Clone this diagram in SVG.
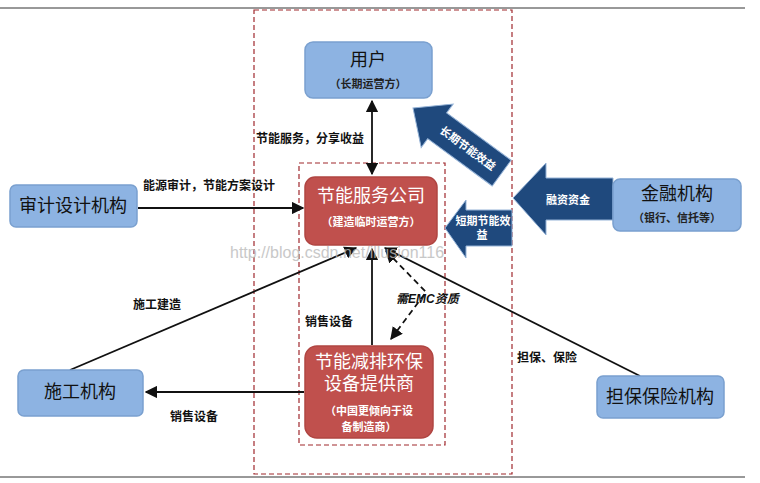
<svg xmlns="http://www.w3.org/2000/svg" width="760" height="483" viewBox="0 0 760 483">
<style>
text{font-family:"Liberation Sans","Noto Sans CJK SC",sans-serif}
.blue{fill:#8db3e2;stroke:#7aa0cf;stroke-width:1.5}
.red{fill:#c0504d;stroke:#b04542;stroke-width:1.5}
.bt{font-size:18px;fill:#111}
.rt{font-size:18px;fill:#fff}
.st{font-size:11px;font-weight:bold;fill:#222}
.lb{font-size:12px;font-weight:bold;fill:#111}
.ln{stroke:#111;stroke-width:1.8;fill:none}
.fat{fill:#1f497d;stroke:#95b3d7;stroke-width:1}
.ft{font-size:11px;font-weight:bold;fill:#fff}
</style>
<defs>
<marker id="ah" viewBox="0 0 10 10" refX="9" refY="5" markerWidth="7" markerHeight="7" orient="auto-start-reverse"><path d="M0,0 L10,5 L0,10 z" fill="#111"/></marker>
</defs>
<line x1="0" y1="8" x2="745" y2="8" stroke="#333" stroke-width="1"/>
<line x1="0" y1="477" x2="745" y2="477" stroke="#333" stroke-width="1"/>
<rect x="254" y="10" width="258" height="464" fill="none" stroke="#a0282d" stroke-width="1.2" stroke-dasharray="5,3"/>
<rect x="299" y="163" width="146" height="282" fill="none" stroke="#a0282d" stroke-width="1.2" stroke-dasharray="5,3"/>
<g id="connectors">
<line class="ln" x1="372" y1="101" x2="372" y2="174" marker-start="url(#ah)" marker-end="url(#ah)"/>
<line class="ln" x1="138" y1="208" x2="303" y2="208" marker-end="url(#ah)"/>
<line class="ln" x1="70" y1="370" x2="356" y2="248" marker-end="url(#ah)"/>
<line class="ln" x1="372" y1="345" x2="372" y2="249" marker-end="url(#ah)"/>
<line class="ln" x1="640" y1="376" x2="385" y2="248" marker-end="url(#ah)"/>
<line class="ln" x1="304" y1="392" x2="146" y2="392" marker-end="url(#ah)"/>
<polyline class="ln" points="386,251 426,292 391,339" stroke-dasharray="6,4" marker-start="url(#ah)" marker-end="url(#ah)"/>
<text class="lb" x="256" y="143">节能服务，分享收益</text>
<text class="lb" x="143" y="190">能源审计，节能方案设计</text>
<text class="lb" x="133" y="309">施工建造</text>
<text class="lb" x="305" y="326">销售设备</text>
<text class="lb" x="396" y="303" font-style="italic" font-size="14">需EMC资质</text>
<text class="lb" x="517" y="362">担保、保险</text>
<text class="lb" x="170" y="421">销售设备</text>
</g>
<g id="fat-long">
<g transform="translate(413,108) rotate(36.3)">
<polygon class="fat" points="0,0 30,-27 30,-16 110,-16 110,16 30,16 30,27"/>
<text class="ft" x="68" y="4" text-anchor="middle" font-size="12">长期节能效益</text>
</g>
</g>
<g id="fat-finance">
<polygon class="fat" points="513,198 546,163 546,178 613,178 613,220 546,220 546,235"/>
<text class="ft" x="568" y="204" font-size="15" text-anchor="middle">融资资金</text>
</g>
<g id="fat-short">
<polygon class="fat" points="445,228 466,200 466,210 512,210 512,246 466,246 466,258"/>
<text class="ft" x="483" y="225" font-size="11" text-anchor="middle">短期节能效</text>
<text class="ft" x="482" y="239" font-size="11" text-anchor="middle">益</text>
</g>
<g id="user"><rect class="blue" x="305" y="42" width="127" height="56" rx="8"/>
<text class="bt" x="368" y="66" text-anchor="middle">用户</text>
<text class="st" x="368" y="88" text-anchor="middle">（长期运营方）</text></g>
<g id="esco"><rect class="red" x="305" y="177" width="132" height="68" rx="10"/>
<text class="rt" x="371" y="202" text-anchor="middle">节能服务公司</text>
<text class="ft" x="371" y="226" text-anchor="middle">（建造临时运营方）</text></g>
<g id="supplier"><rect class="red" x="305" y="346" width="128" height="92" rx="12"/>
<text class="rt" x="369" y="368" text-anchor="middle">节能减排环保</text>
<text class="rt" x="369" y="390" text-anchor="middle">设备提供商</text>
<text class="ft" x="369" y="415" text-anchor="middle">（中国更倾向于设</text>
<text class="ft" x="369" y="431" text-anchor="middle">备制造商）</text></g>
<g id="audit"><rect class="blue" x="10" y="185" width="127" height="42" rx="6"/>
<text class="bt" x="73" y="212" text-anchor="middle">审计设计机构</text></g>
<g id="finance"><rect class="blue" x="613" y="179" width="128" height="52" rx="7"/>
<text class="bt" x="677" y="200" text-anchor="middle">金融机构</text>
<text class="st" x="677" y="222" text-anchor="middle">（银行、信托等）</text></g>
<g id="construction"><rect class="blue" x="18" y="370" width="125" height="46" rx="6"/>
<text class="bt" x="80" y="398" text-anchor="middle">施工机构</text></g>
<g id="guarantee"><rect class="blue" x="597" y="376" width="127" height="42" rx="6"/>
<text class="bt" x="660" y="403" text-anchor="middle">担保保险机构</text></g>
<text x="230" y="258" font-family="DejaVu Sans Mono,monospace" font-size="16" fill="#bbb" opacity="0.8">http://blog.csdn.net/illusion116</text>
</svg>
